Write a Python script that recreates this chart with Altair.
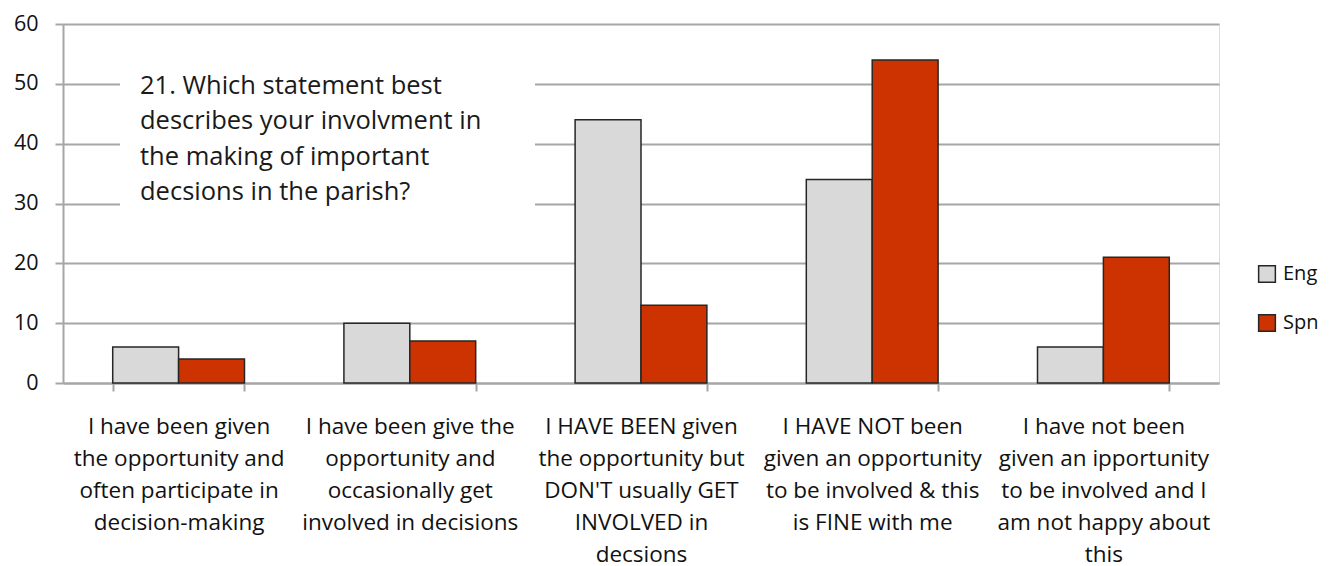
import altair as alt
import pandas as pd

categories = [
    "I have been given|the opportunity and|often participate  in|decision-making",
    "I have been give the|opportunity and|occasionally get|involved in decisions",
    "I HAVE BEEN  given|the opportunity but|DON'T usually GET|INVOLVED in|decsions",
    "I HAVE NOT been|given an opportunity|to be involved & this|is FINE  with  me",
    "I have not been|given an ipportunity|to be involved and I|am not happy about|this",
]
series = ["Eng", "Spn"]
eng = [6, 10, 44, 34, 6]
spn = [4, 7, 13, 54, 21]
question = "21. Which statement best\ndescribes your involvment in\nthe making of important\ndecsions in the parish?"

rows = []
for c, e, s in zip(categories, eng, spn):
    rows.append({"cat": c, "series": "Eng", "value": e})
    rows.append({"cat": c, "series": "Spn", "value": s})
df = pd.DataFrame(rows)

FONT = "Open Sans"
GRID = "#A6A6A6"

x_enc = alt.X(
    "cat:N",
    sort=categories,
    title=None,
    scale=alt.Scale(paddingInner=0.43, paddingOuter=0.215),
    axis=alt.Axis(
        labelExpr="split(datum.label, '|')",
        labelAngle=0,
        labelFontSize=22.5,
        labelLineHeight=32,
        labelPadding=24,
        labelColor="#111111",
        labelFont=FONT,
        labelLimit=0,
        tickBand="extent",
        tickColor=GRID,
        tickWidth=2,
        tickSize=8,
        domainColor=GRID,
        domainWidth=2,
        grid=False,
    ),
)

bars = alt.Chart(df).mark_bar(stroke="#262626", strokeWidth=1.5).encode(
    x=x_enc,
    xOffset=alt.XOffset("series:N", sort=series, scale=alt.Scale(paddingInner=0, paddingOuter=0)),
    y=alt.Y(
        "value:Q",
        title=None,
        scale=alt.Scale(domain=[0, 60]),
        axis=alt.Axis(
            values=[0, 10, 20, 30, 40, 50, 60],
            labelFontSize=21.5,
            labelFont=FONT,
            labelColor="#111111",
            labelPadding=17,
            tickColor=GRID,
            tickWidth=2,
            tickSize=8,
            domainColor=GRID,
            domainWidth=2,
            gridColor=GRID,
            gridWidth=2,
        ),
    ),
    color=alt.Color(
        "series:N",
        sort=series,
        scale=alt.Scale(domain=series, range=["#D9D9D9", "#CC3300"]),
        legend=alt.Legend(
            title=None,
            orient="none",
            legendX=1194,
            legendY=240,
            symbolType="square",
            symbolSize=280,
            symbolStrokeColor="#262626",
            symbolStrokeWidth=1.5,
            labelFontSize=20,
            labelFont=FONT,
            labelColor="#111111",
            rowPadding=25,
            labelOffset=6,
        ),
    ),
)

box = alt.Chart(pd.DataFrame({"t": [question]})).mark_rect(color="white").encode(
    x=alt.value(57), x2=alt.value(472), y=alt.value(40), y2=alt.value(197)
)

text = alt.Chart(pd.DataFrame({"t": [question]})).mark_text(
    align="left", baseline="top", fontSize=25.5, font=FONT, color="#1a1a1a",
    lineBreak="\n", lineHeight=35.3,
).encode(x=alt.value(77), y=alt.value(50), text="t:N")

chart = alt.layer(box, bars, text).properties(
    width=1156, height=359, padding={"left": 5, "top": 5, "right": 5, "bottom": 5}
).configure_view(stroke=None).configure(background="white")

chart.save("out.html", embed_options={"renderer": "svg", "actions": False})
